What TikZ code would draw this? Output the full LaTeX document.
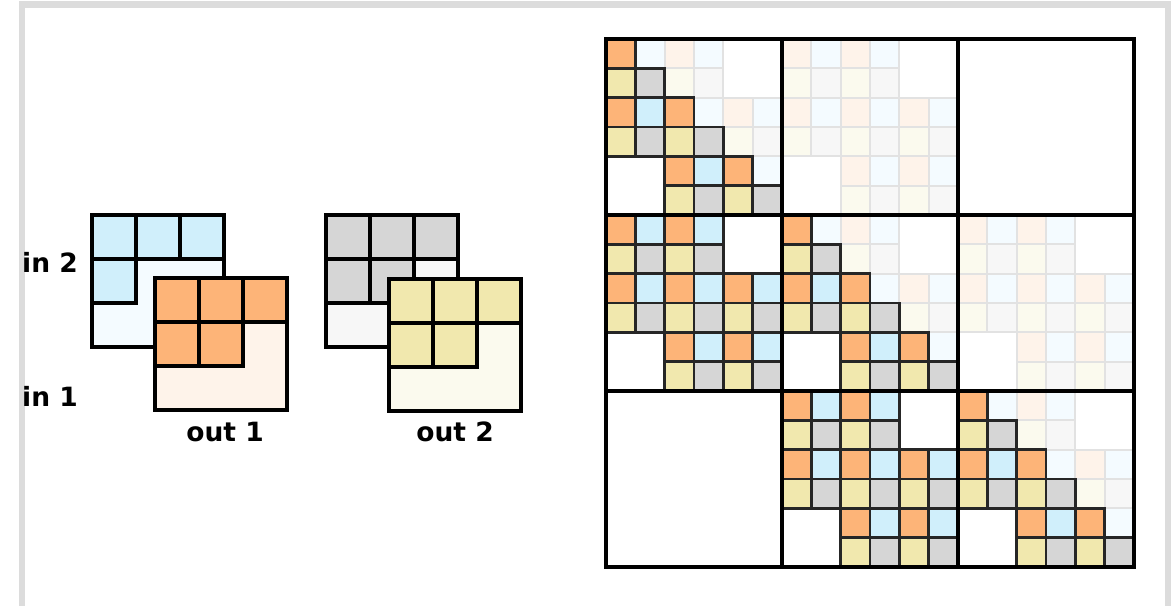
\documentclass[tikz,border=0pt]{standalone}
\usepackage{fontspec}
\setmainfont{DejaVu Sans}
\definecolor{shadowgray}{HTML}{DCDCDC}
\definecolor{sol0}{HTML}{FDB478}
\definecolor{sol1}{HTML}{D0EFFB}
\definecolor{sol2}{HTML}{F1E8AE}
\definecolor{sol3}{HTML}{D6D6D6}
\definecolor{fnt0}{HTML}{FEF3EA}
\definecolor{fnt1}{HTML}{F4FBFF}
\definecolor{fnt2}{HTML}{FBFAEE}
\definecolor{fnt3}{HTML}{F7F7F7}
\definecolor{fntline}{HTML}{E2E2E2}
\tikzset{
  bigline/.style={line width=3.2pt, draw=black},
  solcell/.style={line width=2.5pt, draw=black!85},
  fntcell/.style={line width=2pt, draw=fntline},
  blockline/.style={line width=3.3pt, draw=black, line cap=rect},
  lbl/.style={font=\bfseries\fontsize{26.5}{30}\selectfont, inner sep=0pt}
}
\begin{document}
\begin{tikzpicture}[x=1pt,y=-1pt]
\useasboundingbox (0,0) rectangle (1175,606);
\fill[white] (0,0) rectangle (1175,606);
\fill[shadowgray] (19,1) rectangle (1171,606);
\fill[white] (25,8) rectangle (1165,606);

% ---- left: in 2 (blue) ----
\fill[fnt1] (92,215) rectangle ++(132,132);
\foreach \r/\c in {0/0,0/1,0/2,1/0}
  \filldraw[bigline, fill=sol1] ({92+44*\c},{215+44*\r}) rectangle ++(44,44);
\draw[bigline] (92,215) rectangle ++(132,132);

% ---- out 1 (orange) ----
\fill[fnt0] (155,278) rectangle ++(132,132);
\foreach \r/\c in {0/0,0/1,0/2,1/0,1/1}
  \filldraw[bigline, fill=sol0] ({155+44*\c},{278+44*\r}) rectangle ++(44,44);
\draw[bigline] (155,278) rectangle ++(132,132);

% ---- gray ----
\fill[fnt3] (326,215) rectangle ++(132,132);
\foreach \r/\c in {0/0,0/1,0/2,1/0,1/1}
  \filldraw[bigline, fill=sol3] ({326+44*\c},{215+44*\r}) rectangle ++(44,44);
\draw[bigline] (326,215) rectangle ++(132,132);

% ---- out 2 (yellow) ----
\fill[fnt2] (389,279) rectangle ++(132,132);
\foreach \r/\c in {0/0,0/1,0/2,1/0,1/1}
  \filldraw[bigline, fill=sol2] ({389+44*\c},{279+44*\r}) rectangle ++(44,44);
\draw[bigline] (389,279) rectangle ++(132,132);

\node[lbl, anchor=west] (in2) at (22,262) {in 2};
\node[lbl, anchor=west] (in1) at (22,396) {in 1};
\node[lbl] (out1) at (225,432) {out 1};
\node[lbl] (out2) at (455,432) {out 2};

% ---- right: block matrix ----
\def\sz{29.3333}
% faint pass
\foreach \bi in {0,1,2}{
 \foreach \bj in {0,1,2}{
  \foreach \r in {0,...,5}{
   \foreach \c in {0,...,5}{
     \pgfmathtruncatemacro\si{floor(\r/2)}
     \pgfmathtruncatemacro\sj{floor(\c/2)}
     \pgfmathtruncatemacro\ok{(abs(\bi-\bj)<=1)&&(abs(\si-\sj)<=1)}
     \pgfmathtruncatemacro\solid{(\bi>\bj)||((\bi==\bj)&&(\c<=\r))}
     \pgfmathtruncatemacro\kind{2*mod(\r,2)+mod(\c,2)}
     \ifnum\ok=1
       \ifnum\solid=0
         \filldraw[fntcell, fill=fnt\kind] ({606+176*\bj+\sz*\c},{39+176*\bi+\sz*\r}) rectangle ++(\sz,\sz);
       \fi
     \fi
   }}}}
% solid pass
\foreach \bi in {0,1,2}{
 \foreach \bj in {0,1,2}{
  \foreach \r in {0,...,5}{
   \foreach \c in {0,...,5}{
     \pgfmathtruncatemacro\si{floor(\r/2)}
     \pgfmathtruncatemacro\sj{floor(\c/2)}
     \pgfmathtruncatemacro\ok{(abs(\bi-\bj)<=1)&&(abs(\si-\sj)<=1)}
     \pgfmathtruncatemacro\solid{(\bi>\bj)||((\bi==\bj)&&(\c<=\r))}
     \pgfmathtruncatemacro\kind{2*mod(\r,2)+mod(\c,2)}
     \ifnum\ok=1
       \ifnum\solid=1
         \filldraw[solcell, fill=sol\kind] ({606+176*\bj+\sz*\c},{39+176*\bi+\sz*\r}) rectangle ++(\sz,\sz);
       \fi
     \fi
   }}}}
% block grid
\foreach \k in {0,1,2,3}{
  \draw[blockline] ({606+176*\k},39) -- ({606+176*\k},567);
  \draw[blockline] (606,{39+176*\k}) -- (1134,{39+176*\k});
}
\end{tikzpicture}
\end{document}
